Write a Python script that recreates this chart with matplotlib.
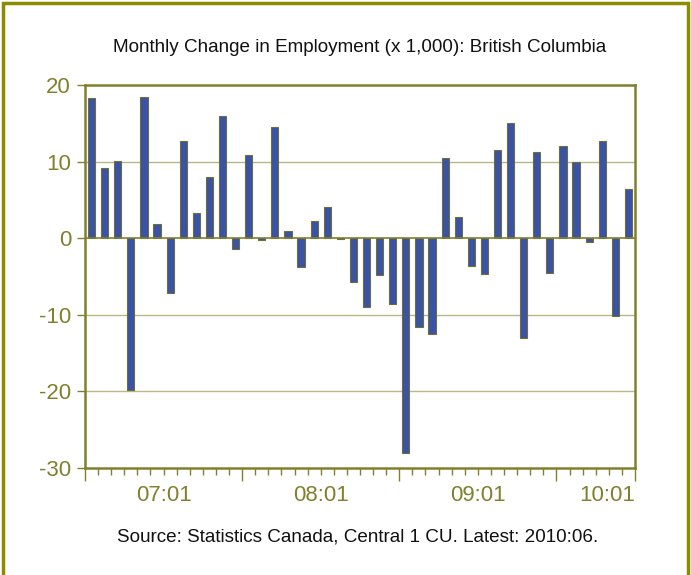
import matplotlib
matplotlib.use("Agg")
import matplotlib.pyplot as plt
from matplotlib.patches import Rectangle

plt.rcParams['font.family'] = ['Liberation Sans', 'DejaVu Sans']

title = "Monthly Change in Employment (x 1,000): British Columbia"
source = "Source: Statistics Canada, Central 1 CU. Latest: 2010:06."

months = [f"{y:02d}:{m:02d}" for y in range(7, 11) for m in range(1, 13)][:42]
values = [18.3, 9.1, 10.1, -19.8, 18.4, 1.8, -7.2, 12.7, 3.3, 8.0, 16.0, -1.4,
          10.9, -0.3, 14.5, 1.0, -3.7, 2.3, 4.1, -0.1, -5.7, -9.0, -4.8, -8.6,
          -28.0, -11.6, -12.5, 10.5, 2.8, -3.6, -4.7, 11.5, 15.1, -13.0, 11.3, -4.5,
          12.0, 9.9, -0.5, 12.7, -10.1, 6.4]
year_labels = ["07:01", "08:01", "09:01", "10:01"]
yticks = [20, 10, 0, -10, -20, -30]

olive = "#80802e"
grid_c = "#b8b886"
bar_c = "#3a53a4"
edge_c = "#6e6e3a"

fig = plt.figure(figsize=(6.91, 5.75), dpi=100)
# outer frame
fig.patches.append(Rectangle((0.004, -0.05), 0.992, 1.05 - 0.005, transform=fig.transFigure,
                             fill=False, edgecolor="#8c8c00", linewidth=2.5))

ax = fig.add_axes([85/691, 1-468/575, 550/691, 383/575])
x = list(range(len(values)))
ax.bar(x, values, width=0.55, color=bar_c, edgecolor=edge_c, linewidth=0.8, zorder=3)

ax.set_xlim(-0.5, len(values) - 0.5)
ax.set_ylim(-30, 20)
ax.set_yticks(yticks)
ax.set_yticklabels([str(v) for v in yticks])
for yv in yticks:
    if yv not in (20, -30, 0):
        ax.axhline(yv, color=grid_c, linewidth=1.0, zorder=1)
ax.axhline(0, color=olive, linewidth=1.2, zorder=4)

for s in ax.spines.values():
    s.set_color(olive)
    s.set_linewidth(1.8)

ax.tick_params(axis='y', direction='out', length=6, width=1, color=olive,
               labelcolor=olive, labelsize=16, pad=4)
# x ticks: boundaries between months
major = [i - 0.5 for i in range(0, len(values) + 1, 12)] + [len(values) - 0.5]
minor = [i - 0.5 for i in range(len(values) + 1)]
ax.set_xticks(sorted(set(major)))
ax.set_xticks(minor, minor=True)
ax.tick_params(axis='x', which='major', direction='out', length=9, width=1, color=olive,
               labelbottom=False)
ax.tick_params(axis='x', which='minor', direction='out', length=5, width=1, color=olive)

trans = ax.get_xaxis_transform()
for k, lab in enumerate(year_labels):
    start = k * 12
    end = min(start + 12, len(values))
    if end - start == 12:
        ax.text((start + end - 1) / 2, -0.045, lab, transform=trans, ha='center', va='top',
                fontsize=16, color=olive)
    else:
        ax.text(len(values) - 0.5, -0.045, lab, transform=trans, ha='right', va='top',
                fontsize=16, color=olive)

fig.text(360/691, 1-47/575, title, ha='center', va='center', fontsize=13.6, color='#111111')
fig.text(358/691, 1-537/575, source, ha='center', va='center', fontsize=13.6, color='#111111')

fig.savefig("out.png", dpi=100)
